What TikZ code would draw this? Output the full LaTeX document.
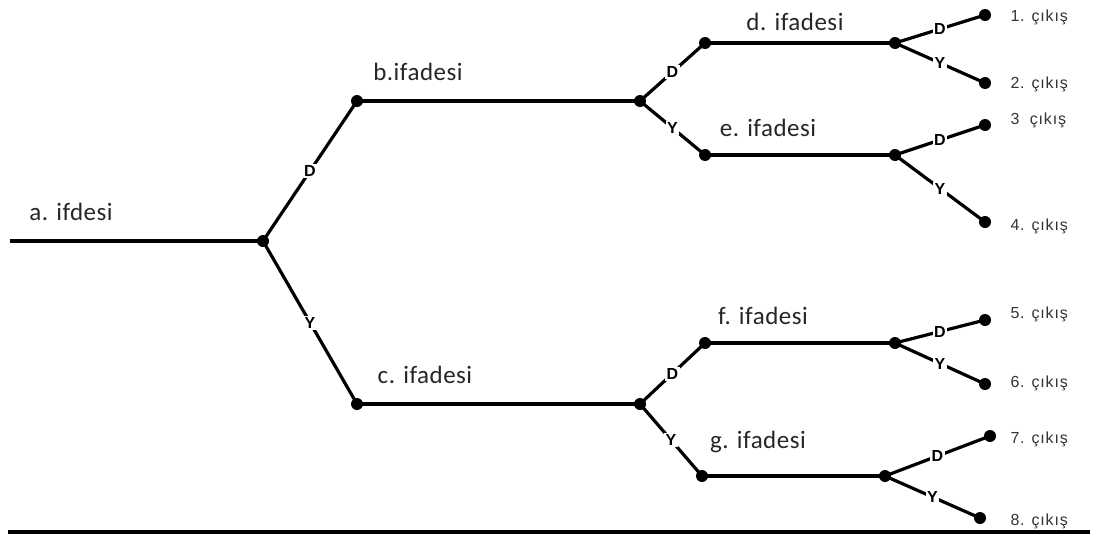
\documentclass[tikz,border=0pt]{standalone}
\usepackage{fontspec}
\setmainfont{Carlito}
\newfontfamily\titlef[LetterSpace=2]{Carlito}
\newfontfamily\arialf{Liberation Sans}
\newfontfamily\arialw[LetterSpace=5]{Liberation Sans}
\begin{document}
\begin{tikzpicture}[x=1pt,y=-1pt,
  dot/.style={circle,fill=black,inner sep=0pt,minimum size=12pt},
  treeline/.style={line width=3.2pt,black},
  lab/.style={fill=white,inner sep=1.5pt,font=\arialf\bfseries\fontsize{16}{16}\selectfont},
  ttl/.style={font=\titlef\fontsize{25}{25}\selectfont,text=black!85},
  outlab/.style={anchor=west,font=\arialw\fontsize{16}{16}\selectfont,text=black!80}]
\useasboundingbox (0,0) rectangle (1094,536);
% nodes
\coordinate (s) at (10,241);
\node[dot] (A) at (263,241) {};
\node[dot] (B) at (357,101) {};
\node[dot] (C) at (357,404) {};
\node[dot] (B2) at (640,101) {};
\node[dot] (C2) at (640,404) {};
\node[dot] (D) at (705,43) {};
\node[dot] (E) at (705,155) {};
\node[dot] (F) at (705,343) {};
\node[dot] (G) at (702,476) {};
\node[dot] (D2) at (895,43) {};
\node[dot] (E2) at (895,155) {};
\node[dot] (F2) at (895,343) {};
\node[dot] (G2) at (885,476) {};
\node[dot] (o1) at (985,15) {};
\node[dot] (o2) at (985,83) {};
\node[dot] (o3) at (985,125) {};
\node[dot] (o4) at (985,222) {};
\node[dot] (o5) at (985,320) {};
\node[dot] (o6) at (985,384) {};
\node[dot] (o7) at (990,436) {};
\node[dot] (o8) at (980,518) {};
% horizontal lines
\draw[treeline] (s) -- (A.center);
\draw[treeline] (B.center) -- (B2.center);
\draw[treeline] (C.center) -- (C2.center);
\draw[treeline] (D.center) -- (D2.center);
\draw[treeline] (E.center) -- (E2.center);
\draw[treeline] (F.center) -- (F2.center);
\draw[treeline] (G.center) -- (G2.center);
% branches
\draw[treeline] (A.center) -- (B.center) node[lab,midway] {D};
\draw[treeline] (A.center) -- (C.center) node[lab,midway] {Y};
\draw[treeline] (B2.center) -- (D.center) node[lab,midway] {D};
\draw[treeline] (B2.center) -- (E.center) node[lab,midway] {Y};
\draw[treeline] (C2.center) -- (F.center) node[lab,midway] {D};
\draw[treeline] (C2.center) -- (G.center) node[lab,midway] {Y};
\draw[treeline] (D2.center) -- (o1.center) node[lab,midway] {D};
\draw[treeline] (D2.center) -- (o2.center) node[lab,midway] {Y};
\draw[treeline] (E2.center) -- (o3.center) node[lab,midway] {D};
\draw[treeline] (E2.center) -- (o4.center) node[lab,midway] {Y};
\draw[treeline] (F2.center) -- (o5.center) node[lab,midway] {D};
\draw[treeline] (F2.center) -- (o6.center) node[lab,midway] {Y};
\draw[treeline] (G2.center) -- (o7.center) node[lab,midway] {D};
\draw[treeline] (G2.center) -- (o8.center) node[lab,midway] {Y};
% titles
\node[ttl] (ta) at (71,212) {a. ifdesi};
\node[ttl] (tb) at (418,72) {b.ifadesi};
\node[ttl] (tc) at (425,375) {c. ifadesi};
\node[ttl] (td) at (795,22) {d. ifadesi};
\node[ttl] (te) at (768,128) {e. ifadesi};
\node[ttl] (tf) at (763,316) {f. ifadesi};
\node[ttl] (tg) at (758,442) {g. ifadesi};
% outputs
\node[outlab] (l1) at (1007,17) {1. çıkış};
\node[outlab] (l2) at (1007,84) {2. çıkış};
\node[outlab] (l3) at (1007,120) {3~~çıkış};
\node[outlab] (l4) at (1007,226) {4. çıkış};
\node[outlab] (l5) at (1007,314) {5. çıkış};
\node[outlab] (l6) at (1007,383) {6. çıkış};
\node[outlab] (l7) at (1007,439) {7. çıkış};
\node[outlab] (l8) at (1007,521) {8. çıkış};
% bottom rule
\coordinate (r1) at (8,532);
\coordinate (r2) at (1090,532);
\draw[line width=4pt] (r1) -- (r2);
\end{tikzpicture}
\end{document}
